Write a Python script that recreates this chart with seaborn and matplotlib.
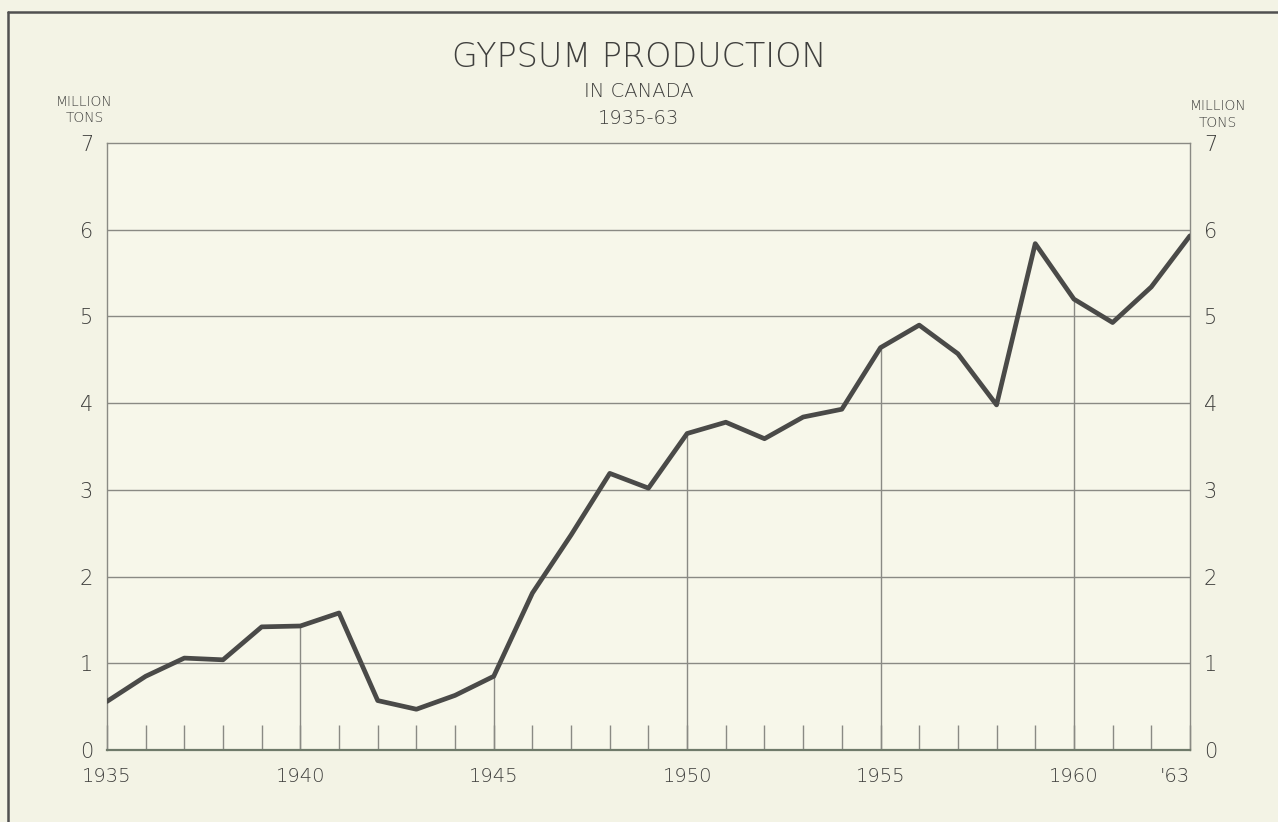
import matplotlib
matplotlib.use("Agg")
import matplotlib.pyplot as plt
from matplotlib.lines import Line2D
import numpy as np
import pandas as pd
import seaborn as sns

# Produccion de yeso en Canada (millones de toneladas)
years = list(range(1935, 1964))
production = [0.56, 0.85, 1.06, 1.04, 1.42, 1.43, 1.58, 0.57, 0.47, 0.63,
              0.85, 1.81, 2.48, 3.19, 3.02, 3.65, 3.78, 3.59, 3.84, 3.93,
              4.64, 4.90, 4.57, 3.98, 5.84, 5.20, 4.93, 5.34, 5.93]
label_years = [1935, 1940, 1945, 1950, 1955, 1960, 1963]
label_text = ["1935", "1940", "1945", "1950", "1955", "1960", "'63"]
grid_years = [1940, 1945, 1950, 1955, 1960]
y_ticks = [0, 1, 2, 3, 4, 5, 6, 7]

BG = "#f3f3e5"
INK = "#3f3f3d"
GRID = "#8a8a84"

sns.set_theme(style="white")
plt.rcParams["font.family"] = ["DejaVu Sans"]
plt.rcParams["font.weight"] = "light"

df = pd.DataFrame({"year": years, "tons": production})

fig = plt.figure(figsize=(12.78, 8.22), dpi=100, facecolor=BG)
ax = fig.add_axes([0.0837, 0.0876, 0.8474, 0.7384])
ax.set_facecolor("#f7f7ea")

# lineas horizontales de la cuadricula
for v in y_ticks[1:-1]:
    ax.axhline(v, color=GRID, lw=1.0, zorder=1)

# lineas verticales solo por debajo de la curva
lookup = dict(zip(years, production))
ax.vlines(grid_years, 0, [lookup[y] for y in grid_years], color=GRID, lw=1.0, zorder=1)

sns.lineplot(data=df, x="year", y="tons", color="#4a4a48", lw=3.4, ax=ax, zorder=3)

ax.set_xlim(1935, 1963)
ax.set_ylim(0, 7)
ax.set_xlabel("")
ax.set_ylabel("")

ax.set_xticks(years)
ax.set_xticklabels([label_text[label_years.index(y)] if y in label_years else "" for y in years])
ax.tick_params(axis="x", direction="in", length=18, width=1.0, color=GRID,
               bottom=True, top=False, labelsize=14, labelcolor=INK, pad=12)
ax.set_yticks(y_ticks)
ax.set_yticklabels([str(v) for v in y_ticks])
ax.tick_params(axis="y", length=0, labelsize=15, labelcolor=INK, pad=10,
               left=True, right=True, labelleft=True, labelright=True)
for lbl in ax.get_xticklabels():
    if lbl.get_text() == "'63":
        lbl.set_horizontalalignment("right")

for side in ["left", "right", "top", "bottom"]:
    ax.spines[side].set_color(GRID)
    ax.spines[side].set_linewidth(1.0)
ax.spines["bottom"].set_color("#6f7a6a")
ax.spines["bottom"].set_linewidth(1.6)

# titulos
fig.text(0.5, 0.918, "GYPSUM PRODUCTION", ha="center", va="baseline",
         fontsize=24, color=INK)
fig.text(0.5, 0.882, "IN CANADA", ha="center", va="baseline", fontsize=14, color=INK)
fig.text(0.5, 0.849, "1935-63", ha="center", va="baseline", fontsize=14, color=INK)

fig.text(0.066, 0.851, "MILLION\nTONS", ha="center", va="baseline", fontsize=10,
         color=INK, linespacing=1.25)
fig.text(0.953, 0.846, "MILLION\nTONS", ha="center", va="baseline", fontsize=10,
         color=INK, linespacing=1.25)

# marco de la pagina
fig.add_artist(Line2D([0.006, 1.0], [0.986, 0.986], transform=fig.transFigure,
                      color="#505050", lw=1.8))
fig.add_artist(Line2D([0.006, 0.006], [0.0, 0.986], transform=fig.transFigure,
                      color="#505050", lw=1.8))

fig.savefig("out.png", dpi=100, facecolor=BG)
